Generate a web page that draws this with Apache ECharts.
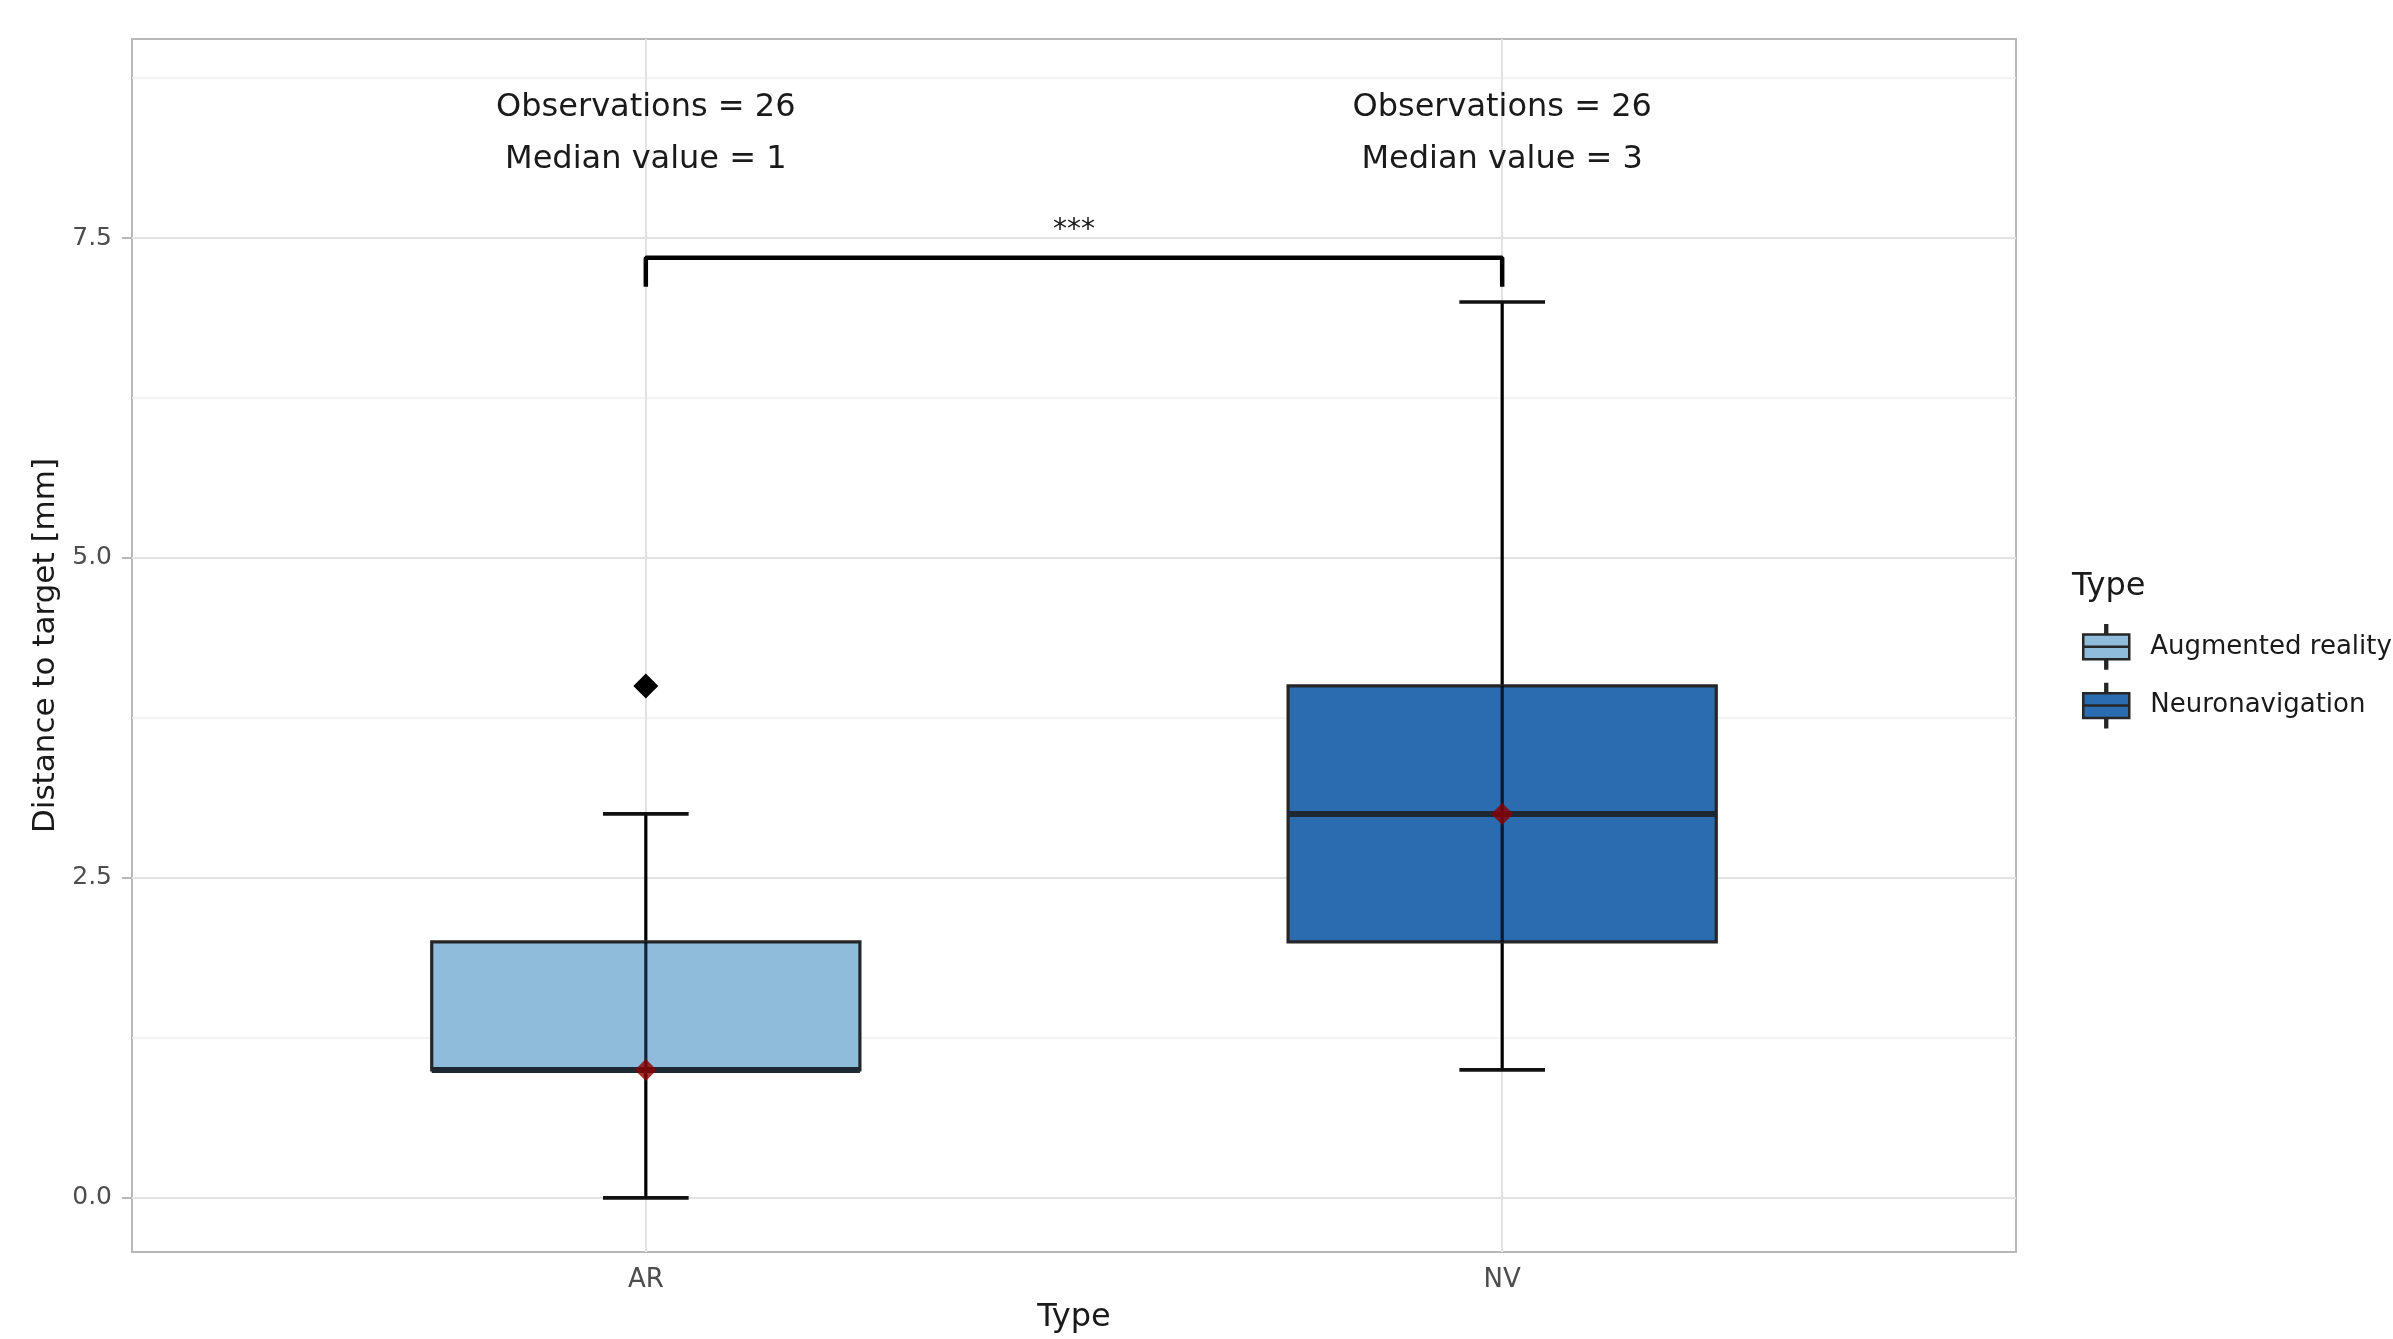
<!DOCTYPE html>
<html>
<head>
<meta charset="utf-8">
<script src="https://cdn.jsdelivr.net/npm/echarts@6/dist/echarts.min.js"></script>
<style>
html,body{margin:0;padding:0;background:#fff;}
#chart{width:2393px;height:1339px;}
</style>
</head>
<body>
<div id="chart"></div>
<script>
// ---------------- DATA ----------------
const categories = ['AR', 'NV'];
const groupNames = ['Augmented reality', 'Neuronavigation'];
const whiskerLow = [0, 1];
const quartile1 = [1, 2];
const medians = [1, 3];
const quartile3 = [2, 4];
const whiskerHigh = [3, 7];
const outliers = [[4], []];
const observations = [26, 26];
const yTicks = [0, 2.5, 5.0, 7.5];
const yMinorTicks = [1.25, 3.75, 6.25, 8.75];
const significance = '***';

// ---------------- LAYOUT / STYLE ----------------
const FONT = 'DejaVu Sans';
const fills = ['#8fbcdb', '#2b6cb0'];
const boxStroke = '#262626';
const yMin = -0.423, yMax = 9.055;
const xMin = 0.4, xMax = 2.6;
const boxHalf = 0.25, capHalf = 0.05;
const annoY1 = 8.515, annoY2 = 8.11;
const bracketTop = 7.345, bracketDrop = 7.12, starsY = 7.56;

const xPos = categories.map((c, i) => i + 1);

const chart = echarts.init(document.getElementById('chart'), null, {renderer: 'canvas'});

function boxRender(params, api) {
  const x = api.value(0);
  const lo = api.coord([x, api.value(1)]);
  const q1 = api.coord([x, api.value(2)]);
  const md = api.coord([x, api.value(3)]);
  const q3 = api.coord([x, api.value(4)]);
  const hi = api.coord([x, api.value(5)]);
  const hb = api.size([boxHalf, 0])[0];
  const hc = api.size([capHalf, 0])[0];
  const cx = lo[0];
  const color = api.visual('color');
  const black = {stroke: '#000', lineWidth: 3.2};
  return {
    type: 'group',
    children: [
      {type: 'line', shape: {x1: cx, y1: lo[1], x2: cx, y2: q1[1]}, style: black},
      {type: 'line', shape: {x1: cx, y1: q3[1], x2: cx, y2: hi[1]}, style: black},
      {type: 'line', shape: {x1: cx - hc, y1: lo[1], x2: cx + hc, y2: lo[1]}, style: {stroke: '#111', lineWidth: 3.6}},
      {type: 'line', shape: {x1: cx - hc, y1: hi[1], x2: cx + hc, y2: hi[1]}, style: {stroke: '#111', lineWidth: 3.6}},
      {type: 'rect', shape: {x: cx - hb, y: q3[1], width: 2 * hb, height: q1[1] - q3[1]},
        style: {fill: color, stroke: boxStroke, lineWidth: 3.2}},
      {type: 'line', shape: {x1: cx, y1: q3[1], x2: cx, y2: q1[1]}, style: {stroke: 'rgba(0,8,30,0.85)', lineWidth: 3.2}},
      {type: 'line', shape: {x1: cx - hb, y1: md[1], x2: cx + hb, y2: md[1]}, style: {stroke: '#1e2833', lineWidth: 6}}
    ]
  };
}

const boxSeries = categories.map((c, i) => ({
  name: groupNames[i],
  type: 'custom',
  renderItem: boxRender,
  itemStyle: {color: fills[i]},
  encode: {x: 0, y: [1, 2, 3, 4, 5]},
  data: [[xPos[i], whiskerLow[i], quartile1[i], medians[i], quartile3[i], whiskerHigh[i]]],
  z: 3,
  animation: false
}));

const outlierData = [];
outliers.forEach((arr, i) => arr.forEach(v => outlierData.push([xPos[i], v])));

const gridLineData = []
  .concat(yTicks.map(v => ({yAxis: v, lineStyle: {color: '#e2e2e2', width: 2, type: 'solid'}})))
  .concat(yMinorTicks.map(v => ({yAxis: v, lineStyle: {color: '#efefef', width: 1.5, type: 'solid'}})))
  .concat(xPos.map(v => ({xAxis: v, lineStyle: {color: '#e2e2e2', width: 2, type: 'solid'}})));

const annoText = [];
categories.forEach((c, i) => {
  annoText.push([xPos[i], annoY1, 'Observations = ' + observations[i]]);
  annoText.push([xPos[i], annoY2, 'Median value = ' + medians[i]]);
});
annoText.push([(xPos[0] + xPos[1]) / 2, starsY, significance]);

const legendIcon = 'path://M24 0h2v10h-2z M0 10h50v13.5h-50z M0 23.5h50v13.5h-50z M24 37h2v10h-2z';

const option = {
  backgroundColor: '#ffffff',
  animation: false,
  textStyle: {fontFamily: FONT},
  grid: {left: 132, right: 377, top: 39, bottom: 79, show: true, borderColor: '#b8b8b8', borderWidth: 2, backgroundColor: 'transparent'},
  xAxis: {
    type: 'value', min: xMin, max: xMax,
    name: 'Type', nameLocation: 'middle', nameGap: 50,
    nameTextStyle: {fontSize: 32, color: '#1a1a1a', fontFamily: FONT},
    axisLine: {show: false},
    splitLine: {show: false},
    axisTick: {show: true, length: 9, lineStyle: {color: '#b8b8b8', width: 2}, customValues: xPos},
    axisLabel: {customValues: xPos, margin: 15, fontSize: 26, color: '#4d4d4d', fontFamily: FONT,
      formatter: v => categories[Math.round(v) - 1] || ''}
  },
  yAxis: {
    type: 'value', min: yMin, max: yMax,
    name: 'Distance to target [mm]', nameLocation: 'middle', nameGap: 71, nameRotate: 90,
    nameTextStyle: {fontSize: 31, color: '#1a1a1a', fontFamily: FONT},
    axisLine: {show: false},
    splitLine: {show: false},
    axisTick: {show: true, length: 10, lineStyle: {color: '#b8b8b8', width: 2}, customValues: yTicks},
    axisLabel: {customValues: yTicks, margin: 20, fontSize: 25, color: '#4d4d4d', fontFamily: FONT,
      formatter: v => Number(v).toFixed(1)}
  },
  legend: {
    orient: 'vertical', left: 2077, top: 619,
    itemWidth: 46, itemHeight: 47, itemGap: 13,
    textStyle: {fontSize: 26, color: '#1a1a1a', fontFamily: FONT, padding: [0, 0, 0, 16]},
    data: groupNames.map((n, i) => ({name: n, icon: legendIcon,
      itemStyle: {color: fills[i], borderColor: boxStroke, borderWidth: 2.5}}))
  },
  graphic: [{
    type: 'text', left: 2072, top: 571,
    style: {text: 'Type', fontSize: 32, fontFamily: FONT, fill: '#1a1a1a'}
  }],
  series: [
    {
      name: 'grid', type: 'line', data: [], z: 0, silent: true,
      markLine: {silent: true, z: 1, symbol: 'none', label: {show: false}, animation: false,
        emphasis: {disabled: true}, data: gridLineData}
    },
    ...boxSeries,
    {
      name: 'medianPoint', type: 'scatter', symbol: 'diamond', symbolSize: [22, 22],
      itemStyle: {color: '#8b0000'}, z: 5, silent: true,
      data: medians.map((m, i) => [xPos[i], m])
    },
    {
      name: 'outlier', type: 'scatter', symbol: 'diamond', symbolSize: [25, 25],
      itemStyle: {color: '#000', opacity: 1}, z: 5, silent: true,
      data: outlierData
    },
    {
      name: 'bracket', type: 'line', silent: true, symbol: 'none', z: 4,
      lineStyle: {color: '#000', width: 4.5},
      data: [[xPos[0], bracketDrop], [xPos[0], bracketTop], [xPos[1], bracketTop], [xPos[1], bracketDrop]]
    },
    {
      name: 'annotations', type: 'custom', silent: true, z: 6,
      encode: {x: 0, y: 1},
      renderItem: (params, api) => {
        const p = api.coord([api.value(0), api.value(1)]);
        const t = annoText[params.dataIndex][2];
        const isStars = t === significance;
        return {type: 'text', x: p[0], y: p[1],
          style: {text: t, fontSize: isStars ? 28 : 32, fontFamily: FONT, fill: '#1a1a1a',
            align: 'center', verticalAlign: 'middle'}};
      },
      data: annoText
    }
  ]
};
chart.setOption(option);
</script>
</body>
</html>
